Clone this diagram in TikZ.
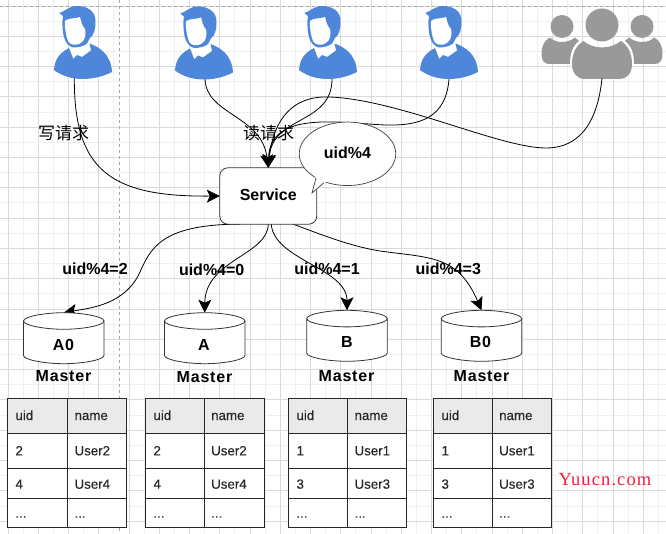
\documentclass[tikz,border=0pt]{standalone}
\usepackage{fontspec}
\setmainfont{Liberation Sans}
\newfontfamily\cjkf{Noto Sans CJK SC}
\newfontfamily\spacedf[LetterSpace=5]{Liberation Sans}
\newfontfamily\tablef[FakeBold=0.25]{Liberation Sans}
\newfontfamily\wmf[LetterSpace=6]{Liberation Serif}
\usetikzlibrary{arrows.meta,shapes.geometric}
\definecolor{userblue}{HTML}{4E86DA}
\definecolor{groupgray}{HTML}{999999}
\definecolor{gridmajor}{HTML}{DADADA}
\definecolor{gridminor}{HTML}{EFEFEF}
\definecolor{hdrfill}{HTML}{EAEAEA}
\definecolor{wmred}{HTML}{F0203C}
\tikzset{
  link/.style={draw=black,line width=0.8pt,-{Stealth[length=13pt,width=13pt,inset=3pt]}},
  blab/.style={font=\fontsize{16}{18}\selectfont\bfseries,inner sep=0pt,anchor=base},
  mlab/.style={font=\fontsize{16}{18}\selectfont\spacedf\bfseries,inner sep=0pt,anchor=base},
  cjklab/.style={font=\fontsize{17}{19}\selectfont\cjkf,inner sep=0pt},
  celltxt/.style={font=\fontsize{13.3}{15}\selectfont\tablef,inner sep=0pt,anchor=base west,text=black!85},
  tline/.style={draw=black!85,line width=0.9pt},
  cylbox/.style={minimum width=80.5pt,minimum height=51pt,inner sep=0pt,anchor=north},
  userpic/.pic={
    \fill[white] (16,41) -- (19.3,53) -- (23,49) -- (28,51) -- (37,44.5) -- (35.5,37.5) -- (23,44) -- cycle;
    \fill[userblue] (0,64) .. controls (1,52) and (6,47) .. (15,42) -- (19.3,53) -- (23,49) -- (28,51) -- (37,44.5) -- (35.5,37.5)
      .. controls (45,41) and (57,48) .. (58,66) .. controls (48,71) and (38,73) .. (29,73) .. controls (18,73) and (8,70) .. (0,64) -- cycle;
    \fill[userblue] (5.3,7) .. controls (10,6) and (15,0) .. (22.7,0) .. controls (33,0) and (42,5) .. (41.5,16)
      .. controls (41.5,23) and (40,29) .. (36,32) -- (33,37.5) .. controls (30,40) and (25,41.5) .. (19,41.5)
      .. controls (11,39) and (8,30) .. (8.5,14) -- (9,10) -- cycle;
    \fill[white] (11,15) .. controls (14,11.5) and (22,13) .. (26,11) .. controls (27,15) and (28,20) .. (31,23) -- (31.5,27)
      .. controls (31.5,33) and (29,36) .. (25,38) .. controls (21,39.5) and (16,39) .. (14,35) .. controls (12,30) and (10.5,22) .. (11,15) -- cycle;
  },
  cylpic/.pic={
    \draw[draw=black!80,fill=white,line width=0.8pt] (-40.25,8.3) .. controls (-40.25,3.7) and (-18,0) .. (0,0) .. controls (18,0) and (40.25,3.7) .. (40.25,8.3)
      -- (40.25,42.7) .. controls (40.25,47.3) and (18,51) .. (0,51) .. controls (-18,51) and (-40.25,47.3) .. (-40.25,42.7) -- cycle;
    \draw[draw=black!80,line width=0.8pt] (-40.25,8.3) .. controls (-40.25,12.9) and (-18,16.6) .. (0,16.6) .. controls (18,16.6) and (40.25,12.9) .. (40.25,8.3);
  }
}
\newcommand{\dbtable}[8]{%
  \fill[hdrfill] (#2,398.3) rectangle (#4,433.3);
  \fill[white] (#2,433.3) rectangle (#4,527.3);
  \draw[tline] (#2,398.3) rectangle (#4,527.3);
  \draw[tline] (#3,398.3) -- (#3,527.3);
  \draw[tline] (#2,433.3) -- (#4,433.3);
  \draw[tline] (#2,468.3) -- (#4,468.3);
  \draw[tline] (#2,498.3) -- (#4,498.3);
  \node[celltxt] (#1ha) at ({#2+8},420) {uid};
  \node[celltxt] (#1hb) at ({#3+6.7},420) {name};
  \node[celltxt] (#1aa) at ({#2+8},455.3) {#5};
  \node[celltxt] (#1ab) at ({#3+6.7},455.3) {#6};
  \node[celltxt] (#1ba) at ({#2+8},488.7) {#7};
  \node[celltxt] (#1bb) at ({#3+6.7},488.7) {#8};
  \node[celltxt] (#1ca) at ({#2+8},517.7) {...};
  \node[celltxt] (#1cb) at ({#3+6.7},517.7) {...};
}
\begin{document}
\begin{tikzpicture}[x=1pt,y=-1pt]
\useasboundingbox (0,0) rectangle (666,534);
\fill[white] (0,0) rectangle (666,534);
% grid
\foreach \k in {0,...,21} {
  \draw[gridminor,line width=0.9pt] ({8+15.125+30.25*\k},0) -- ({8+15.125+30.25*\k},534);
}
\foreach \k in {0,...,17} {
  \draw[gridminor,line width=0.9pt] (0,{6+15.15+30.3*\k}) -- (666,{6+15.15+30.3*\k});
}
\foreach \k in {0,...,21} {
  \draw[gridmajor,line width=0.9pt] ({8+30.25*\k},0) -- ({8+30.25*\k},534);
}
\foreach \k in {0,...,17} {
  \draw[gridmajor,line width=0.9pt] (0,{6+30.3*\k}) -- (666,{6+30.3*\k});
}
\draw[black!35,dashed,line width=0.8pt] (119.5,0) -- (119.5,534);
\draw[black!35,dashed,line width=0.8pt] (0,6) -- (666,6);
% icons
\pic at (54,6) {userpic};
\pic at (175,6.5) {userpic};
\pic at (299,6) {userpic};
\pic at (420,6) {userpic};
\fill[groupgray] (602,25) circle[radius=16.5pt];
\fill[groupgray] (562,26.5) circle[radius=11.5pt];
\fill[groupgray] (642,26.5) circle[radius=11.5pt];
\fill[groupgray] (583.5,41) .. controls (577,45) and (572,52) .. (572,64) .. controls (572,73) and (577,79) .. (585,79) -- (620,79)
  .. controls (627,79) and (632,73) .. (632,64) .. controls (632,52) and (627,45) .. (621,41)
  .. controls (616,45) and (609,47.5) .. (602,47.5) .. controls (595,47.5) and (588,45) .. (583.5,41) -- cycle;
\fill[groupgray] (550,37.5) .. controls (545,40) and (541.5,45) .. (541.5,54) .. controls (541.5,60) and (544,64) .. (549,64) -- (570,64)
  .. controls (570,54) and (572,46) .. (579,41) -- (575,37.5) .. controls (571,40.5) and (567,42) .. (562,42) .. controls (557,42) and (553,40.5) .. (550,37.5) -- cycle;
\fill[groupgray] (654,37.5) .. controls (659,40) and (662.5,45) .. (662.5,54) .. controls (662.5,60) and (660,64) .. (655,64) -- (634,64)
  .. controls (634,54) and (632,46) .. (625,41) -- (629,37.5) .. controls (633,40.5) and (637,42) .. (642,42) .. controls (647,42) and (651,40.5) .. (654,37.5) -- cycle;
\coordinate (u1) at (74.3,78);
\coordinate (u2) at (205,79);
\coordinate (u3) at (332,79);
\coordinate (u4) at (449,79);
\coordinate (grp) at (602,78.5);
% service + db anchors
\node[minimum width=96.5pt,minimum height=56pt,inner sep=0pt] (svc) at (268.25,196) {};
\node[cylbox] (a0) at (63.75,312.7) {};
\node[cylbox] (a) at (204.75,312.7) {};
\node[cylbox] (b) at (347,310.3) {};
\node[cylbox] (b0) at (481.5,310.3) {};
% connectors
\draw[link] (u1) .. controls (74,170) and (110,197) .. (svc.west);
\draw[link] (u2) .. controls (206,115) and (262,115) .. (svc.north);
\draw[link] (u3) .. controls (332,125) and (272,115) .. (svc.north);
\draw[link] (u4) .. controls (446,118) and (420,126) .. (385,125) .. controls (340,123) and (270,110) .. (svc.north);
\draw[link] (grp) .. controls (596,135) and (570,148) .. (546,148) .. controls (500,148) and (400,100) .. (330,97) .. controls (285,95) and (272,130) .. (svc.north);
\draw[link] ([xshift=-28pt]svc.south) .. controls (160,224) and (150,250) .. (140,272) .. controls (125,305) and (90,308) .. (a0.north);
\draw[link] (svc.south) .. controls (268,255) and (205,260) .. (a.north);
\draw[link] ([xshift=3pt]svc.south) .. controls (274,260) and (347,268) .. (b.north);
\draw[link] ([xshift=25pt]svc.south) .. controls (325,236) and (350,246) .. (380,251) .. controls (430,258) and (458,255) .. (b0.north);
% service box
\draw[draw=black!80,fill=white,rounded corners=8pt,line width=0.8pt] (svc.north west) rectangle (svc.south east);
\node[blab] (svct) at (268.25,200.7) {Service};
% callout
\node[ellipse,draw=black!75,fill=white,line width=0.7pt,minimum width=96.5pt,minimum height=63.5pt,inner sep=0pt] (co) at (347.5,153.8) {};
\coordinate (tipc) at (312,193);
\fill[white] (315.5,177) -- (tipc) -- (325,183) -- (330,175) -- cycle;
\draw[draw=black!75,line width=0.7pt] (316,178) -- (tipc) -- (324,182.7);
\node[blab] (cot) at (347.5,159) {uid\%4};
% cylinders
\pic at (a0.north) {cylpic};
\pic at (a.north) {cylpic};
\pic at (b.north) {cylpic};
\pic at (b0.north) {cylpic};
\node[mlab] (a0t) at (63.5,350) {A0};
\node[mlab] (at) at (204,350) {A};
\node[mlab] (bt) at (347,347) {B};
\node[mlab] (b0t) at (480.5,347) {B0};
\node[mlab] (m1) at (63.5,381.3) {Master};
\node[mlab] (m2) at (204.5,382) {Master};
\node[mlab] (m3) at (346.5,381.3) {Master};
\node[mlab] (m4) at (481.5,381.3) {Master};
% labels
\node[cjklab] (w) at (63.5,133.5) {写请求};
\node[cjklab] (r) at (268.7,133.5) {读请求};
\node[blab] (l2) at (95,274.3) {uid\%4=2};
\node[blab] (l0) at (211.7,275.3) {uid\%4=0};
\node[blab] (l1) at (327,274.3) {uid\%4=1};
\node[blab] (l3) at (448.3,274.3) {uid\%4=3};
% tables
\dbtable{ta}{7.3}{67.7}{126.7}{2}{User2}{4}{User4}
\dbtable{tb}{145.3}{204.3}{264.3}{2}{User2}{4}{User4}
\dbtable{tc}{288.3}{347.7}{406.3}{1}{User1}{3}{User3}
\dbtable{td}{433.3}{492.3}{551.3}{1}{User1}{3}{User3}
% watermark
\node[font=\fontsize{18.5}{22}\selectfont\wmf,text=wmred,inner sep=0pt,anchor=base] (wm) at (605,485) {Yuucn.com};
\end{tikzpicture}
\end{document}
